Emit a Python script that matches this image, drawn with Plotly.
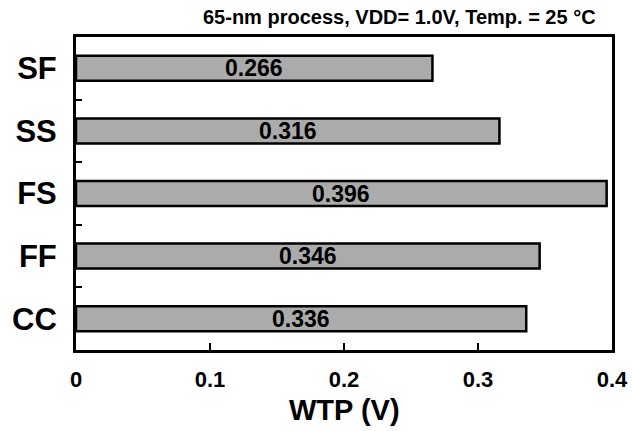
import plotly.graph_objects as go

# Process corners (bottom to top) and their WTP values in volts
corners = ["CC", "FF", "FS", "SS", "SF"]
wtp_values = [0.336, 0.346, 0.396, 0.316, 0.266]
x_ticks = [0, 0.1, 0.2, 0.3, 0.4]
x_tick_labels = ["0", "0.1", "0.2", "0.3", "0.4"]

FONT = "Liberation Sans, Arial, sans-serif"

fig = go.Figure(
    go.Bar(
        x=wtp_values,
        y=corners,
        orientation="h",
        width=0.4,
        marker=dict(color="#ababab", line=dict(color="black", width=2.5)),
        hoverinfo="x+y",
    )
)

# value labels centred on each bar
for corner, v in zip(corners, wtp_values):
    fig.add_annotation(
        x=v / 2, y=corner,
        xref="x", yref="y",
        text=f"{v:.3f}",
        showarrow=False,
        xanchor="center", yanchor="middle",
        font=dict(family=FONT, size=23, weight="bold", color="black"),
    )

fig.update_layout(
    width=632,
    height=431,
    margin=dict(l=76, r=20, t=37, b=81, autoexpand=False),
    paper_bgcolor="white",
    plot_bgcolor="white",
    showlegend=False,
    font=dict(family=FONT, color="black"),
)

fig.update_xaxes(
    range=[0, 0.4],
    tickvals=x_ticks,
    ticktext=x_tick_labels,
    ticks="inside",
    ticklen=7,
    tickwidth=2,
    tickcolor="black",
    showline=True,
    linewidth=3,
    linecolor="black",
    mirror=True,
    showgrid=False,
    zeroline=False,
    automargin=False,
    tickfont=dict(family=FONT, size=22, weight="bold"),
    ticklabelstandoff=8,
)

fig.update_yaxes(
    categoryorder="array",
    categoryarray=corners,
    tickson="boundaries",
    ticks="inside",
    ticklen=6,
    tickwidth=2,
    tickcolor="black",
    showline=True,
    linewidth=3,
    linecolor="black",
    mirror=True,
    showgrid=False,
    zeroline=False,
    automargin=False,
    tickfont=dict(family=FONT, size=31, weight="bold"),
    ticklabelstandoff=10,
)

# x-axis title
fig.add_annotation(
    text="WTP (V)",
    xref="paper", yref="paper",
    x=0.5, y=-0.192,
    xanchor="center", yanchor="middle",
    showarrow=False,
    font=dict(family=FONT, size=29, weight="bold", color="black"),
)

# operating-condition caption above the frame
fig.add_annotation(
    text="65-nm process, VDD= 1.0V, Temp. = 25 \u00b0C",
    xref="paper", yref="paper",
    x=0.974, y=1.064,
    xanchor="right", yanchor="middle",
    showarrow=False,
    font=dict(family=FONT, size=20, weight="bold", color="black"),
)

fig.write_html("out.html")
